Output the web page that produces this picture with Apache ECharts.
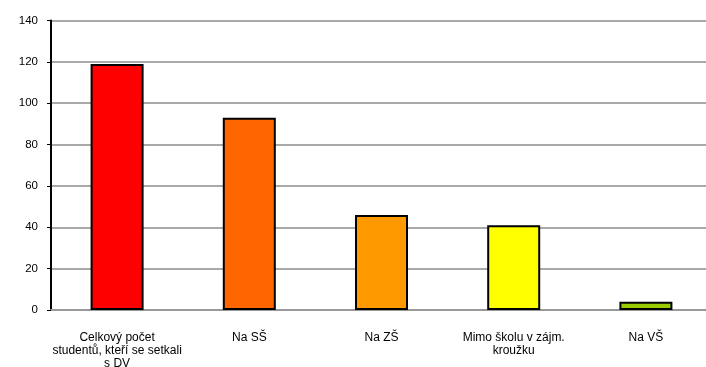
<!DOCTYPE html>
<html>
<head>
<meta charset="utf-8">
<script src="https://cdn.jsdelivr.net/npm/echarts@6/dist/echarts.min.js"></script>
<style>
  html, body { margin: 0; padding: 0; background: #fff; }
  #chart { width: 706px; height: 367px; }
</style>
</head>
<body>
<div id="chart"></div>
<script>
const categories = [
  'Celkový počet\nstudentů, kteří se setkali\ns DV',
  'Na SŠ',
  'Na ZŠ',
  'Mimo školu v zájm.\nkroužku',
  'Na VŠ'
]
const values = [119, 93, 46, 41, 4]
const barColors = ['#FF0000', '#FF6600', '#FF9900', '#FFFF00', '#99CC00']

const myChart = echarts.init(document.getElementById('chart'))
const options = {
  animation: false,
  textStyle: { fontFamily: 'Liberation Sans, Arial, sans-serif' },
  grid: {
    left: 51,
    top: 20.5,
    width: 661,
    height: 289.5,
    containLabel: false,
    // v6: don't shrink the grid to fit the long label
    outerBoundsMode: 'none'
  },
  xAxis: {
    type: 'category',
    data: categories,
    axisLine: { lineStyle: { color: '#999', width: 2 } },
    axisTick: { show: false },
    axisLabel: {
      color: '#000',
      fontSize: 12,
      lineHeight: 13,
      margin: 21,
      interval: 0
    }
  },
  yAxis: {
    type: 'value',
    min: 0,
    max: 140,
    interval: 20,
    axisLine: { show: true, lineStyle: { color: '#000', width: 2 } },
    axisTick: { show: true, length: 4, lineStyle: { color: '#000' } },
    axisLabel: { color: '#000', fontSize: 11.5, margin: 13 },
    splitLine: { lineStyle: { color: '#8c8c8c', width: 1.5 } }
  },
  series: [
    {
      type: 'bar',
      barWidth: 53,
      data: values.map((v, i) => ({
        value: v,
        itemStyle: { color: barColors[i], borderColor: '#000', borderWidth: 2 }
      }))
    }
  ]
}
myChart.setOption(options)
</script>
</body>
</html>
